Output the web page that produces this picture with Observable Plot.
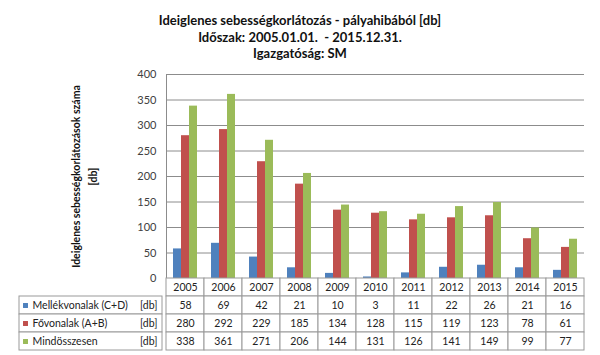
<!DOCTYPE html>
<html>
<head>
<meta charset="utf-8">
<script src="https://cdn.jsdelivr.net/npm/d3@7"></script>
<script src="https://cdn.jsdelivr.net/npm/@observablehq/plot@0.6"></script>
<style>
  html, body { margin: 0; padding: 0; background: #fff; }
  #wrap { width: 600px; height: 355px; position: relative; overflow: hidden; font-family: Lato, "Noto Sans", sans-serif; }
  #title { height: 64px; box-sizing: border-box; padding-top: 12px; text-align: center; font-weight: bold; font-size: 13px; line-height: 16.5px; color: #111; }
  #main svg, #table svg { display: block; }
  #table { margin-top: -1px; }
</style>
</head>
<body>
<div id="wrap">
  <div id="title">
    <div>Ideiglenes sebességkorlátozás - pályahibából [db]</div>
    <div>Időszak: 2005.01.01.&nbsp; - 2015.12.31.</div>
    <div>Igazgatóság: SM</div>
  </div>
  <div id="main"></div>
  <div id="table"></div>
</div>
<script>
const years = [2005, 2006, 2007, 2008, 2009, 2010, 2011, 2012, 2013, 2014, 2015];
const series = ["Mellékvonalak (C+D)", "Fővonalak (A+B)", "Mindösszesen"];
const mellekvonalak = [58, 69, 42, 21, 10, 3, 11, 22, 26, 21, 16];
const fovonalak = [280, 292, 229, 185, 134, 128, 115, 119, 123, 78, 61];
const mindosszesen = [338, 361, 271, 206, 144, 131, 126, 141, 149, 99, 77];
const colors = ["#4F81BD", "#C0504D", "#9BBB59"];
const yTicks = [0, 50, 100, 150, 200, 250, 300, 350, 400];
const unit = "[db]";
const yTitle = "Ideiglenes sebességkorlátozások száma\n[db]";

const seriesValues = [mellekvonalak, fovonalak, mindosszesen];
const long = years.flatMap((yr, i) => series.map((s, k) => ({year: yr, series: s, value: seriesValues[k][i]})));

const font = 'Lato, "Noto Sans", sans-serif';
const gridColor = "#8c8c8c";
const tableColor = "#9a9a9a";

const main = Plot.plot({
  width: 600, height: 215,
  marginTop: 10, marginBottom: 1, marginLeft: 162, marginRight: 13,
  style: {fontFamily: font, fontSize: "10.5px", color: "#404040", background: "transparent", overflow: "visible"},
  fx: {domain: years, padding: 0, axis: null},
  x: {domain: series, paddingInner: 0.06, paddingOuter: 0.8, axis: null},
  y: {domain: [0, 400], axis: null},
  color: {domain: series, range: colors},
  marks: [
    Plot.gridY(yTicks, {stroke: gridColor, strokeOpacity: 1, strokeWidth: 1}),
    Plot.barY(long, {fx: "year", x: "series", y: "value", fill: "series"}),
    Plot.axisY(yTicks, {tickSize: 0, tickPadding: 10, label: null, fontSize: 11, fill: "#404040"}),
    Plot.frame({anchor: "left", stroke: gridColor, facetAnchor: "left"}),
    Plot.text([yTitle], {frameAnchor: "left", textAnchor: "middle", lineAnchor: "middle", rotate: -90, dx: -83, fontWeight: "bold", fontSize: 10.5, lineHeight: 1.6, fill: "#111", facetAnchor: "left"})
  ]
});
document.getElementById("main").appendChild(main);

const rowKeys = ["year", ...series];
const cells = years.flatMap((yr, i) => [
  {year: yr, row: "year", text: String(yr)},
  ...series.map((s, k) => ({year: yr, row: s, text: String(seriesValues[k][i])}))
]);
const labelRows = series.map(s => ({row: s, label: s}));

const table = Plot.plot({
  width: 600, height: 77,
  marginTop: 0, marginBottom: 5, marginLeft: 162, marginRight: 13,
  style: {fontFamily: font, fontSize: "10.5px", color: "#222", background: "transparent", overflow: "visible"},
  x: {domain: years, padding: 0, axis: null},
  y: {domain: rowKeys, padding: 0, axis: null},
  color: {domain: series, range: colors},
  marks: [
    Plot.cell(cells, {x: "year", y: "row", fill: "white", stroke: tableColor, inset: 0}),
    Plot.text(cells, {x: "year", y: "row", text: "text", fill: "#222"}),
    Plot.cell(labelRows, {y: "row", fill: "white", stroke: tableColor, insetLeft: -143, insetRight: 425}),
    Plot.dot(labelRows, {y: "row", frameAnchor: "left", dx: -137, symbol: "square", fill: "row", r: 2.8}),
    Plot.text(labelRows, {y: "row", frameAnchor: "left", dx: -130, textAnchor: "start", text: "label", fill: "#222", letterSpacing: 0.3}),
    Plot.text(labelRows, {y: "row", frameAnchor: "left", dx: -5, textAnchor: "end", text: () => unit, fill: "#222"})
  ]
});
document.getElementById("table").appendChild(table);
</script>
</body>
</html>
